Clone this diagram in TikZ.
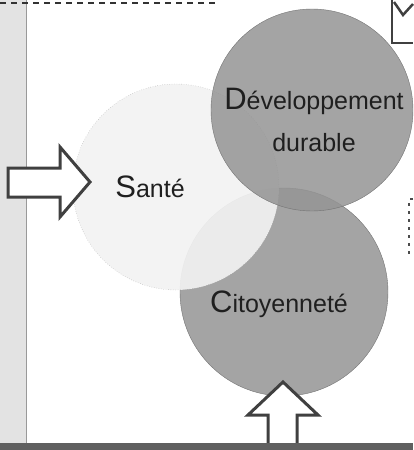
\documentclass[tikz,border=0pt]{standalone}
\usepackage{fontspec}
\setmainfont{Liberation Sans}
\usepackage{tikz}
\usetikzlibrary{calc}

\newcommand{\grandeinit}[2]{{\fontsize{31}{31}\selectfont #1}{\fontsize{25}{25}\selectfont #2}}

\begin{document}
\begin{tikzpicture}[x=1pt,y=-1pt,
    bulle/.style={circle,inner sep=0pt,draw=gray!60,line width=0.4pt},
    foncee/.style={bulle,fill=black!42,fill opacity=0.85,draw=black!55},
    claire/.style={bulle,fill=gray!10,fill opacity=0.92,dotted,draw=gray!80},
    mot/.style={text=black!88,inner sep=0pt},
    bloc/.style={draw=black!75,line width=3pt,fill=white,line join=miter}]
  % Constants
  \pgfmathsetmacro\W{413}
  \pgfmathsetmacro\H{450}
  \pgfmathsetmacro\band{443}
  % Boundary
  \path[use as bounding box] (0,0) rectangle (\W,\H);
  % Left strip and top line
  \fill[gray!22] (0,0) rectangle (26,\band);
  \draw[gray!80,line width=1pt] (26,0) -- (26,\band);
  \draw[black!80,line width=1.8pt,dash pattern=on 6pt off 5pt] (0,3) -- (217,3);
  % Circles
  \node[foncee,minimum size=208pt] (citoy) at (284,292) {};
  \node[claire,minimum size=206pt] (sante) at (176,187) {};
  \node[foncee,minimum size=202pt] (devdur) at (312,110) {};
  % Labels
  \node[mot] (santetxt) at (150,187) {\grandeinit{S}{anté}};
  \node[mot,align=center,font=\fontsize{25}{42}\selectfont] (devtxt) at (314,120)
    {\grandeinit{D}{éveloppement}\\durable};
  \node[mot] (citoytxt) at (279,304) {\grandeinit{C}{itoyenneté}};
  % Block arrows
  \draw[bloc] (8,168) -- (60,168) -- (60,147) -- (90,182) -- (60,217) -- (60,197) -- (8,197) -- cycle;
  \draw[bloc] (268,446) -- (268,415) -- (248,415) -- (283,382) -- (318,415) -- (297,415) -- (297,446);
  % Bottom band
  \fill[gray!75!black] (0,\band) rectangle (\W,\H);
  % Check box, top right
  \draw[black!75,line width=2.5pt] (392,0) -- (392,43) -- (413,43);
  \draw[black!75,line width=2.5pt] (394,2) -- (403,15) -- (413,4);
  % Dashed bracket, right
  \draw[black!70,line width=1.2pt,dash pattern=on 3pt off 5pt] (413,199) -- (409,199) -- (409,254) -- (413,254);
\end{tikzpicture}
\end{document}
